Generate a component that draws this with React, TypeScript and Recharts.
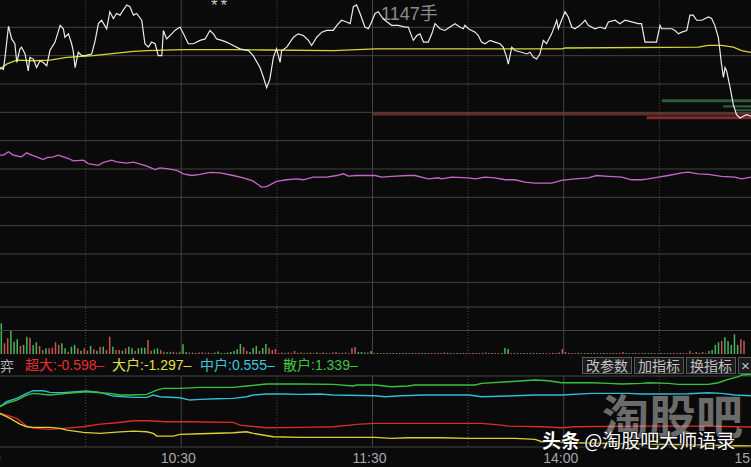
import React from 'react';
import { ComposedChart, Line, Bar, Cell, XAxis, YAxis, ReferenceLine, ReferenceArea } from 'recharts';

// ---- time axis (minutes after 9:30, lunch break removed) ----
const timeTicks = [0, 60, 120, 180, 240];
const timeLabels = ['9:30', '10:30', '11:30', '14:00', '15:00'];
const hourLines = [60, 120, 180];
const halfHourLines = [30, 90, 150, 210];

// ---- price panel (percent change) ----
const priceGrid = [5, 4, 3, 2, 1, 0, -1, -2, -3, -4];

const priceAM: [number, number][] = [
  [3.1, 3.58], [4.2, 3.52], [4.7, 3.94], [5.8, 5.04], [6.8, 4.59], [7.8, 4.42], [8.4, 3.76], [9.4, 4.24], [9.9, 4.3], [11.0, 4.06],
  [12.0, 3.46], [12.5, 3.94], [13.6, 3.88], [14.6, 3.58], [15.7, 3.82], [16.7, 3.76], [17.8, 3.64], [18.8, 4.18], [20.4, 4.48], [22.0, 5.07],
  [23.0, 4.95], [23.5, 4.65], [24.6, 4.77], [25.6, 4.42], [26.1, 4.18], [26.7, 3.58], [27.7, 4.12], [28.8, 4.0], [29.8, 4.0], [31.9, 4.06],
  [33.0, 4.54], [34.0, 5.13], [35.0, 5.25], [36.6, 4.95], [37.6, 5.55], [38.7, 5.31], [39.7, 5.49], [40.8, 5.43], [41.8, 5.61], [42.9, 5.79],
  [43.9, 5.73], [45.0, 5.43], [46.0, 5.49], [47.6, 5.25], [48.6, 4.42], [49.7, 4.3], [50.7, 4.48], [51.8, 4.42], [52.8, 4.0], [53.9, 4.0],
  [54.4, 4.89], [55.4, 4.59], [57.0, 4.77], [58.0, 4.89], [59.6, 5.01], [60.7, 4.77], [62.2, 4.42], [63.8, 4.42], [65.9, 4.54], [67.5, 4.59],
  [69.0, 4.89], [70.1, 4.77], [71.1, 4.59], [72.7, 4.54], [74.2, 4.48], [76.3, 4.36], [78.4, 4.24], [81.1, 4.18], [82.6, 4.0], [84.7, 3.58],
  [85.8, 3.23], [86.8, 2.87], [87.8, 3.17], [88.9, 3.94], [89.9, 4.24], [91.0, 3.76], [91.5, 4.18], [93.1, 4.3], [95.2, 4.65], [96.7, 4.77],
  [98.3, 4.71], [99.9, 4.54], [100.9, 4.36], [102.5, 4.65], [104.1, 4.83], [105.6, 4.89], [107.7, 4.89], [108.8, 5.07], [110.3, 5.25], [111.9, 5.19],
  [113.0, 5.13], [114.0, 5.73], [115.0, 5.79], [116.1, 5.49], [117.6, 5.01], [118.7, 4.95], [119.7, 5.19],
];

const pricePM: [number, number][] = [
  [120.8, 5.49], [121.8, 5.55], [122.9, 5.37], [123.9, 5.25], [126.0, 5.07], [128.1, 5.07], [130.2, 5.01], [131.2, 5.01], [132.8, 4.54], [133.9, 4.71],
  [134.9, 4.77], [136.0, 4.48], [137.5, 4.48], [138.6, 4.77], [139.6, 5.13], [141.2, 4.95], [142.7, 4.89], [144.3, 5.01], [145.9, 5.13], [147.4, 5.01],
  [148.5, 4.95], [149.0, 5.07], [150.1, 4.95], [152.2, 4.83], [153.2, 4.71], [154.2, 4.48], [155.3, 4.42], [156.9, 4.54], [158.4, 4.48], [160.0, 4.42],
  [161.0, 4.3], [162.1, 3.94], [162.6, 3.7], [163.7, 4.3], [164.7, 4.18], [166.8, 4.12], [168.4, 4.06], [169.4, 4.12], [170.5, 3.94], [171.5, 3.88],
  [172.5, 4.06], [173.6, 4.54], [174.6, 4.42], [176.2, 4.77], [177.8, 5.25], [178.3, 4.95], [179.3, 5.25], [180.4, 5.55], [181.4, 5.37], [182.5, 5.01],
  [183.5, 4.95], [185.1, 5.07], [186.7, 5.25], [187.7, 5.07], [189.8, 4.95], [191.4, 5.01], [193.0, 4.95], [194.0, 5.19], [196.1, 5.25], [197.6, 5.13],
  [199.2, 5.25], [201.3, 5.19], [203.4, 5.13], [204.4, 5.13], [205.5, 4.48], [207.6, 4.48], [209.1, 4.48], [210.2, 5.07], [210.7, 4.95], [212.3, 4.95],
  [213.9, 4.95], [214.9, 4.89], [216.0, 4.77], [217.0, 4.83], [218.6, 4.89], [219.6, 5.43], [220.6, 5.43], [221.7, 5.25], [223.3, 5.25], [225.4, 5.37],
  [226.4, 5.31], [227.4, 5.07], [228.5, 4.65], [229.5, 3.7], [230.1, 3.23], [230.6, 3.58], [231.1, 3.46], [232.2, 2.87], [233.2, 2.27], [234.2, 1.92],
  [235.3, 1.8], [236.3, 1.86], [237.4, 1.92], [238.7, 1.86],
];

const avgPrice: [number, number][] = [
  [3.1, 3.52], [5.2, 3.7], [8.4, 3.84], [13.6, 3.82], [18.8, 3.84], [24.1, 3.94], [32.4, 4.0], [37.6, 4.06], [45.0, 4.15], [49.2, 4.18],
  [60.7, 4.21], [76.3, 4.21], [86.8, 4.2], [107.7, 4.18], [120.8, 4.24], [179.3, 4.24], [180.4, 4.27], [222.2, 4.3], [225.4, 4.36], [229.5, 4.36],
  [233.2, 4.3], [235.8, 4.18], [238.7, 4.12],
];

const indicator: [number, number][] = [
  [3.1, 0.49], [4.2, 0.49], [5.8, 0.61], [7.3, 0.49], [8.9, 0.45], [9.9, 0.43], [11.5, 0.57], [13.1, 0.49], [14.6, 0.43], [16.7, 0.33],
  [17.8, 0.4], [19.9, 0.43], [21.4, 0.49], [23.0, 0.43], [24.6, 0.37], [26.1, 0.29], [29.3, 0.31], [30.8, 0.19], [34.0, 0.13], [35.6, 0.23],
  [38.2, 0.31], [39.7, 0.25], [42.9, 0.21], [45.0, 0.24], [47.1, 0.17], [49.2, 0.1], [51.8, -0.02], [53.3, 0.04], [55.4, 0.01], [58.6, -0.05],
  [60.7, -0.17], [63.3, -0.23], [65.9, -0.19], [69.0, -0.12], [72.2, -0.14], [76.3, -0.23], [79.5, -0.31], [82.6, -0.43], [85.2, -0.64], [86.8, -0.62],
  [89.9, -0.44], [93.1, -0.38], [96.2, -0.35], [98.3, -0.38], [101.4, -0.29], [105.6, -0.29], [108.8, -0.23], [110.9, -0.17], [112.4, -0.25], [115.0, -0.23],
  [120.8, -0.23], [122.9, -0.29], [126.0, -0.26], [131.2, -0.23], [133.3, -0.23], [137.5, -0.35], [140.6, -0.31], [141.7, -0.35], [144.8, -0.29], [150.1, -0.31],
  [152.2, -0.35], [155.3, -0.29], [158.4, -0.31], [161.6, -0.38], [164.7, -0.38], [167.8, -0.46], [171.0, -0.5], [176.2, -0.5], [179.3, -0.4], [183.5, -0.35],
  [187.7, -0.31], [190.3, -0.23], [194.0, -0.26], [198.2, -0.29], [201.3, -0.38], [204.4, -0.38], [206.5, -0.35], [209.7, -0.29], [212.8, -0.23], [217.0, -0.14],
  [219.1, -0.11], [222.2, -0.17], [225.4, -0.19], [229.5, -0.26], [233.7, -0.29], [235.8, -0.35], [238.7, -0.29],
];

// order-book bands drawn at the right of the price panel
const orderBands = [
  { from: 120.2, to: 240, low: 1.89, high: 2.01, side: 'ask' },
  { from: 206.0, to: 240, low: 1.76, high: 1.86, side: 'ask' },
  { from: 210.8, to: 240, low: 2.36, high: 2.46, side: 'bid' },
  { from: 230.0, to: 240, low: 2.17, high: 2.25, side: 'bid' },
  { from: 233.8, to: 240, low: 2.04, high: 2.11, side: 'bid' },
];

// ---- volume per minute (signed: + up/red, - down/green), starting at minute 4 ----
const VOL_START = 4;
const volumes = [
  -307, 107, 157, -240, -123, -147, 80, -90, -173, 163,
  -90, -117, 80, 40, -57, 57, 63, 117, 90, -107,
  -57, 23, -73, -90, 57, -33, 57, 33, -80, 47,
  -33, 73, -73, 40, 173, -73, 40, 40, -33, 57,
  -73, -57, 33, -57, -63, -63, 140, 33, -47, -57,
  40, 23, -17, -17, 23, -13, 23, -97, -20, 15,
  15, -10, 15, 15, 10, 15, 10, -15, -25, -10,
  -10, -15, -20, -30, -47, -100, 70, 30, -20, -60,
  -80, 30, -60, -100, 60, 40, 50, 10, 15, -10,
  15, 10, 30, -10, 15, 10, -10, 15, 10, -15,
  10, 15, -10, 10, 15, 20, 10, -10, 15, 10,
  60, 70, -20, -20, -15, 15, -30, 10, -10, 10,
  10, -10, 10, -10, 10, 10, -10, 10, 10, -10,
  10, 10, -10, -10, 10, 10, -10, 10, 10, 15,
  -10, 10, 10, -10, 10, -10, 10, 10, -10, 10,
  10, -10, 15, 10, -10, 10, 10, -10, -60, -50,
  10, -10, 10, 10, -10, 10, 10, -10, 10, 10,
  -10, 10, 10, -10, 10, 15, 50, 20, -10, 10,
  10, -10, 10, 10, -10, 10, -10, 10, 10, -10,
  10, 10, -10, 10, 10, 20, -10, 10, 10, -10,
  10, 10, -10, 10, -10, 10, 10, -10, 10, 10,
  -10, 10, 10, -10, 10, 10, 33, 10, 20, -10,
  20, 10, -30, -40, -90, -117, 130, -167, -130, -90,
  -197, -90, 147, 133,
];
const volGrid = [470, 235];

// ---- fund flow panel ----
const flowSuper: [number, number][] = [
  [3.1, -0.097], [5.2, -0.159], [8.4, -0.282], [11.5, -0.566], [13.6, -0.64], [18.8, -0.689], [23.0, -0.652], [29.3, -0.591], [34.5, -0.492], [39.7, -0.443],
  [45.0, -0.369], [49.2, -0.369], [55.4, -0.406], [61.7, -0.406], [76.3, -0.43], [78.4, -0.529], [86.8, -0.628], [97.3, -0.615], [107.7, -0.591], [112.9, -0.529],
  [116.1, -0.492], [120.8, -0.467], [131.2, -0.467], [154.2, -0.467], [160.5, -0.529], [162.6, -0.566], [173.1, -0.591], [179.3, -0.628], [183.5, -0.591], [204.4, -0.566],
  [225.4, -0.566], [238.7, -0.598],
];
const flowLarge: [number, number][] = [
  [3.1, -0.097], [6.3, -0.282], [9.4, -0.492], [11.5, -0.591], [13.6, -0.615], [18.8, -0.615], [22.0, -0.652], [24.1, -0.714], [29.3, -0.8], [34.5, -0.837],
  [39.7, -0.788], [45.0, -0.751], [49.2, -0.776], [51.2, -0.837], [52.3, -0.936], [57.5, -0.936], [59.6, -0.874], [65.9, -0.85], [76.3, -0.813], [80.5, -0.776],
  [82.6, -0.837], [88.9, -0.961], [97.3, -0.985], [120.8, -0.985], [126.0, -1.022], [131.2, -0.998], [141.7, -0.998], [150.1, -1.022], [164.7, -1.022], [171.0, -1.059],
  [173.1, -1.146], [183.5, -1.183], [194.0, -1.207], [204.4, -1.232], [214.9, -1.244], [225.4, -1.269], [233.7, -1.294], [238.7, -1.297],
];
const flowMid: [number, number][] = [
  [3.1, 0.149], [5.2, 0.334], [8.4, 0.458], [11.5, 0.643], [13.6, 0.741], [16.7, 0.741], [18.8, 0.68], [23.0, 0.667], [26.1, 0.692], [30.3, 0.729],
  [34.5, 0.68], [38.7, 0.544], [45.0, 0.495], [49.2, 0.495], [51.2, 0.581], [53.3, 0.519], [59.6, 0.482], [62.7, 0.396], [65.9, 0.421], [71.1, 0.445],
  [76.3, 0.458], [80.5, 0.519], [82.6, 0.581], [86.8, 0.618], [92.0, 0.618], [97.3, 0.606], [103.5, 0.618], [107.7, 0.581], [120.8, 0.556], [123.9, 0.519],
  [129.1, 0.556], [136.5, 0.581], [150.1, 0.581], [154.2, 0.519], [162.6, 0.544], [171.0, 0.581], [179.3, 0.581], [188.8, 0.643], [200.3, 0.643], [204.4, 0.618],
  [211.8, 0.618], [219.1, 0.63], [225.4, 0.667], [229.5, 0.643], [233.7, 0.581], [238.7, 0.555],
];
const flowRetail: [number, number][] = [
  [3.1, 0.149], [5.2, 0.273], [8.4, 0.396], [11.5, 0.581], [13.6, 0.643], [18.8, 0.581], [24.1, 0.643], [30.3, 0.704], [34.5, 0.667], [37.6, 0.643],
  [40.8, 0.581], [45.0, 0.581], [49.2, 0.606], [52.3, 0.766], [54.4, 0.828], [59.6, 0.828], [65.9, 0.865], [76.3, 0.865], [80.5, 0.914], [86.8, 0.988],
  [97.3, 0.988], [107.7, 0.976], [114.0, 0.914], [115.0, 0.951], [120.8, 0.951], [126.0, 0.889], [131.2, 0.914], [133.3, 0.951], [152.2, 0.951], [154.2, 1.013],
  [162.6, 1.074], [171.0, 1.136], [175.2, 1.111], [179.3, 1.037], [188.8, 1.037], [194.0, 1.013], [198.2, 0.988], [204.4, 1.013], [206.5, 1.037], [212.8, 1.013],
  [216.0, 0.976], [225.4, 0.976], [228.5, 1.037], [231.6, 1.161], [234.8, 1.259], [235.8, 1.321], [238.7, 1.339],
];
const flowNames = ['超大', '大户', '中户', '散户'];
const flowBorders = [1.285, -1.34];

const toolButtons = ['改参数', '加指标', '换指标'];

// ---- styling ----
const BG = '#0a0a0a';
const GRID = '#434343';
const DOT = '#4e4e4e';
const UP = '#c85454';
const DOWN = '#47b65a';
const FLOW_COLORS = ['#dc2a2a', '#d9d22e', '#2fbdd3', '#36c23e'];
const LEGEND_COLORS = ['#e83030', '#e3e040', '#3ac8dc', '#40c43e'];
const FONT = "'Liberation Sans', Arial, 'Noto Sans CJK SC', sans-serif";
const CJK = "'Noto Sans CJK SC', 'Liberation Sans', sans-serif";

const toPts = (arr: [number, number][]) => arr.map(([t, v]) => ({ t, v }));
const M = { top: 0, right: 0, bottom: 0, left: 0 };
const CH_LEFT = -10;
const CH_W = 765;
const ROW = 28.3333;

function vLines(prefix: string, seg?: [number, number]) {
  const mk = (x: number, dotted: boolean) =>
    seg ? (
      <ReferenceLine key={prefix + x} segment={[{ x, y: seg[0] }, { x, y: seg[1] }]} stroke={dotted ? DOT : GRID} strokeDasharray={dotted ? '1 2' : undefined} ifOverflow="visible" />
    ) : (
      <ReferenceLine key={prefix + x} x={x} stroke={dotted ? DOT : GRID} strokeDasharray={dotted ? '1 2' : undefined} ifOverflow="visible" />
    );
  return [...hourLines.map((x) => mk(x, false)), ...halfHourLines.map((x) => mk(x, true))];
}

export default function App() {
  const priceData = toPts([...priceAM, ...pricePM]);
  const volData = volumes.map((s, i) => ({ t: VOL_START + i - 0.5, vol: Math.abs(s), up: s > 0 }));
  const flows = [flowSuper, flowLarge, flowMid, flowRetail];
  const legendLeft = [25, 112, 200, 283];
  const fmt = (v: number) => (v < 0 ? '-' : '') + Math.abs(v).toFixed(3);

  return (
    <div style={{ position: 'absolute', left: 0, top: 0, width: 751, height: 467, overflow: 'hidden', background: BG, fontFamily: FONT }}>
      {/* labels under the price line */}
      <div style={{ position: 'absolute', left: 211, top: -3, fontSize: 17, color: '#c8c8c8', letterSpacing: 3, lineHeight: '17px' }}>**</div>
      <div style={{ position: 'absolute', left: 381, top: 5, fontSize: 18, color: '#8c8c8c', lineHeight: '18px', fontFamily: FONT }}>1147手</div>

      {/* price + indicator panel */}
      <div style={{ position: 'absolute', left: CH_LEFT, top: 27 - ROW }}>
        <ComposedChart width={CH_W} height={ROW * 11} data={priceData} margin={M}>
          <XAxis type="number" dataKey="t" domain={[0, 240]} hide allowDataOverflow />
          <YAxis type="number" domain={[-5, 6]} hide allowDataOverflow />
          {priceGrid.map((v) => (
            <ReferenceLine key={'pg' + v} y={v} stroke={GRID} ifOverflow="visible" />
          ))}
          {vLines('pv')}
          {orderBands.map((b, i) => (
            <ReferenceArea key={'ob' + i} x1={b.from} x2={b.to} y1={b.low} y2={b.high} fill={b.side === 'ask' ? (i === 0 ? '#6a2929' : '#7c2c2c') : '#2e5c3a'} fillOpacity={1} stroke="none" ifOverflow="visible" />
          ))}
          <Line data={toPts(indicator)} dataKey="v" type="linear" stroke="#c468c8" strokeWidth={1.3} dot={false} activeDot={false} isAnimationActive={false} />
          <Line data={toPts(avgPrice)} dataKey="v" type="linear" stroke="#d8d62e" strokeWidth={1.3} dot={false} activeDot={false} isAnimationActive={false} />
          <Line dataKey="v" type="linear" stroke="#ececec" strokeWidth={1.2} dot={false} activeDot={false} isAnimationActive={false} />
        </ComposedChart>
      </div>

      {/* volume panel */}
      <div style={{ position: 'absolute', left: CH_LEFT, top: 306 }}>
        <ComposedChart width={CH_W} height={48} data={volData} margin={M}>
          <XAxis type="number" dataKey="t" domain={[0, 240]} hide allowDataOverflow />
          <YAxis type="number" domain={[0, 480]} hide allowDataOverflow />
          {volGrid.map((v) => (
            <ReferenceLine key={'vg' + v} y={v} stroke={GRID} ifOverflow="visible" />
          ))}
          {vLines('vv')}
          <Bar dataKey="vol" barSize={1.5} isAnimationActive={false}>
            {volData.map((d, i) => (
              <Cell key={i} fill={d.up ? UP : DOWN} />
            ))}
          </Bar>
        </ComposedChart>
      </div>

      {/* legend row */}
      <div style={{ position: 'absolute', left: -14, top: 357, fontSize: 14, lineHeight: '17px', color: '#b4b4b4', fontFamily: CJK }}>博弈</div>
      {flows.map((f, i) => (
        <div key={'lg' + i} style={{ position: 'absolute', left: legendLeft[i], top: 357, fontSize: 14, lineHeight: '17px', color: LEGEND_COLORS[i], whiteSpace: 'nowrap' }}>
          {flowNames[i]}:{fmt(f[f.length - 1][1])}–
        </div>
      ))}
      {toolButtons.map((b, i) => (
        <div key={'tb' + i} style={{ position: 'absolute', left: 582 + i * 52, top: 357, width: 48, height: 15, border: '1px solid #5a5a5a', background: '#1b1b1b', color: '#c2c2c2', fontSize: 14, lineHeight: '15px', textAlign: 'center', fontFamily: CJK }}>
          {b}
        </div>
      ))}
      <div style={{ position: 'absolute', left: 738, top: 357, width: 20, height: 15, border: '1px solid #5a5a5a', background: '#1b1b1b', color: '#c2c2c2', fontSize: 15, lineHeight: '15px', paddingLeft: 2 }}>×</div>

      {/* fund flow panel + time axis */}
      <div style={{ position: 'absolute', left: CH_LEFT, top: 371 }}>
        <ComposedChart width={CH_W} height={96} data={toPts(flowSuper)} margin={M}>
          <XAxis
            type="number"
            dataKey="t"
            domain={[0, 240]}
            ticks={timeTicks}
            interval={0}
            tickFormatter={(v: number) => timeLabels[timeTicks.indexOf(v)]}
            axisLine={false}
            tickLine={false}
            tickSize={0}
            tickMargin={3}
            height={17}
            allowDataOverflow
            tick={{ fill: '#a8a8a8', fontSize: 14, fontFamily: FONT, dx: -3 }}
          />
          <YAxis type="number" domain={[-1.45, 1.47]} hide allowDataOverflow />
          {flowBorders.map((v) => (
            <ReferenceLine key={'fb' + v} y={v} stroke={GRID} ifOverflow="visible" />
          ))}
          {vLines('fv', [flowBorders[0], flowBorders[1]])}
          <Line dataKey="v" type="linear" stroke={FLOW_COLORS[0]} strokeWidth={1.4} dot={false} activeDot={false} isAnimationActive={false} />
          <Line data={toPts(flowLarge)} dataKey="v" type="linear" stroke={FLOW_COLORS[1]} strokeWidth={1.4} dot={false} activeDot={false} isAnimationActive={false} />
          <Line data={toPts(flowMid)} dataKey="v" type="linear" stroke={FLOW_COLORS[2]} strokeWidth={1.4} dot={false} activeDot={false} isAnimationActive={false} />
          <Line data={toPts(flowRetail)} dataKey="v" type="linear" stroke={FLOW_COLORS[3]} strokeWidth={1.4} dot={false} activeDot={false} isAnimationActive={false} />
        </ComposedChart>
      </div>

      {/* watermarks */}
      <div style={{ position: 'absolute', left: 602, top: 390, fontSize: 47, lineHeight: '47px', fontWeight: 700, color: 'rgba(205,205,205,0.5)', fontFamily: CJK, whiteSpace: 'nowrap' }}>淘股吧</div>
      <div style={{ position: 'absolute', left: 542, top: 429, fontSize: 19, lineHeight: '22px', color: '#ffffff', fontFamily: CJK, whiteSpace: 'nowrap', textShadow: '1px 1px 2px #000, 0 0 2px #000' }}>
        <span style={{ fontWeight: 700 }}>头条</span> @淘股吧大师语录
      </div>
    </div>
  );
}
